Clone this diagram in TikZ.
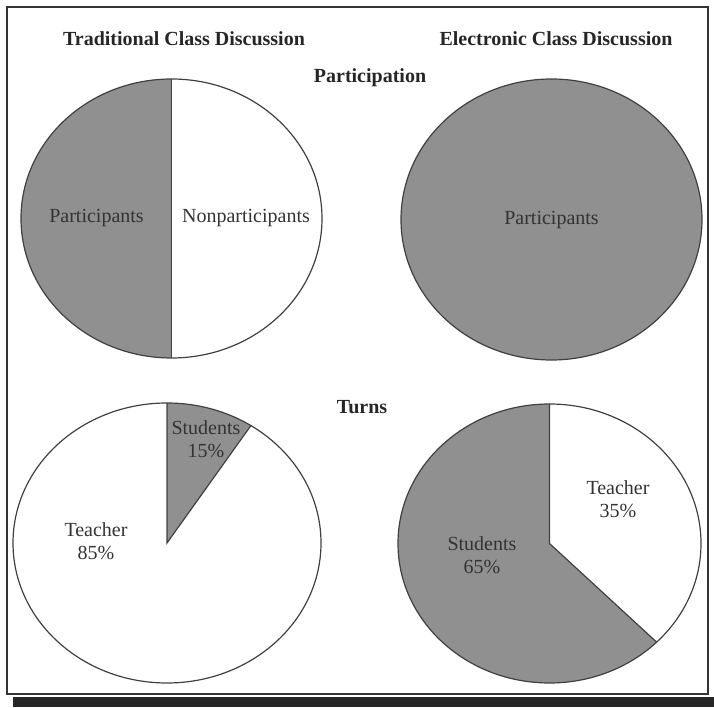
\documentclass[tikz,border=0pt]{standalone}
\usepackage{fontspec}
\setmainfont{Liberation Serif}
\usepackage{tikz}
\usetikzlibrary{positioning}

\definecolor{piegray}{RGB}{144,144,144}

\begin{document}
\begin{tikzpicture}[x=0.75pt, y=0.75pt]

        % Define styles
        \tikzstyle{heading} = [font=\fontsize{15}{17}\selectfont\bfseries, text=black!85, inner sep=0pt]
        \tikzstyle{share} = [font=\fontsize{15}{17.5}\selectfont, text=black!80, align=center, inner sep=0pt]
        \tikzstyle{rim} = [draw=black!75, line width=0.9pt]
        \tikzstyle{slice} = [fill=piegray]

        \useasboundingbox (0,0) rectangle (714,707);

        % Frame
        \fill[black!85] (13,0) rectangle (714,10);
        \draw[line width=1.5pt, black!80] (7,13) rectangle (708,700);

        % Pies
        \coordinate (tradpie) at (171.5,488.5);
        \coordinate (elecpie) at (551.5,487.5);
        \coordinate (tradturn) at (167,164);
        \coordinate (electurn) at (549.5,163.5);

        \fill[slice] (tradpie) -- (171.5,628) arc[start angle=90, end angle=270, x radius=150.5, y radius=139.5] -- cycle;
        \draw[rim] (tradpie) ellipse [x radius=150.5, y radius=139.5];
        \draw[rim] (171.5,628) -- (171.5,349);

        \draw[rim, slice] (elecpie) ellipse [x radius=150.5, y radius=140.5];

        \fill[slice] (tradturn) -- (167,304) arc[start angle=90, end angle=57, x radius=154, y radius=140] -- cycle;
        \draw[rim] (tradturn) ellipse [x radius=154, y radius=140];
        \draw[rim] (167,304) -- (tradturn) -- (250.9,281.4);

        \fill[slice] (electurn) -- (549.5,303) arc[start angle=90, end angle=315, x radius=151.5, y radius=139.5] -- cycle;
        \draw[rim] (electurn) ellipse [x radius=151.5, y radius=139.5];
        \draw[rim] (549.5,303) -- (electurn) -- (656.6,64.9);

        % Place nodes
        \node [heading] (tradtitle) at (184,668) {Traditional Class Discussion};
        \node [heading] (electitle) at (556,668) {Electronic Class Discussion};
        \node [heading] (partitle) at (370,629) {Participation};
        \node [heading] (turntitle) at (362,300) {Turns};

        \node [share] (tradpart) at (96.5,489) {Participants};
        \node [share] (tradnon) at (246,489) {Nonparticipants};
        \node [share] (elecpart) at (551.5,487) {Participants};

        \node [share] (tradstud) at (206,268) {Students\\15\%};
        \node [share] (tradteach) at (96,166) {Teacher\\85\%};
        \node [share] (electeach) at (618,207.5) {Teacher\\35\%};
        \node [share] (elecstud) at (482,152) {Students\\65\%};

    \end{tikzpicture}
\end{document}
